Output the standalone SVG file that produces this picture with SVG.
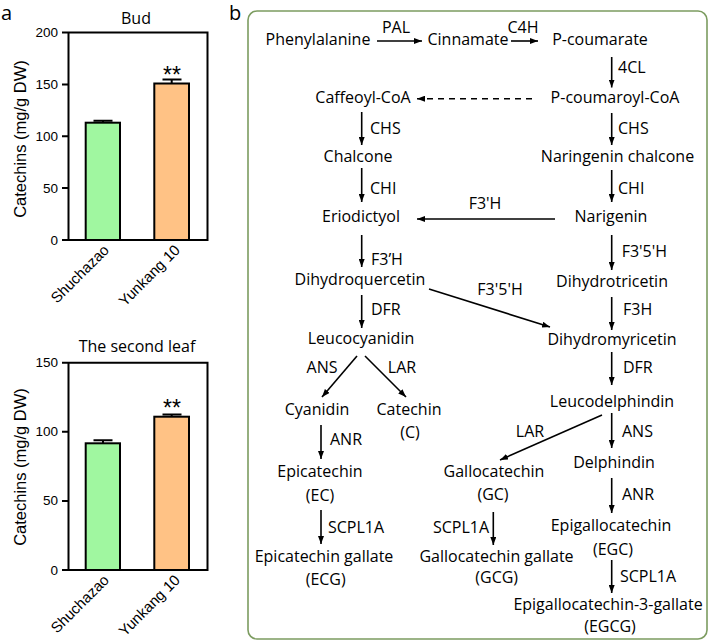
<svg xmlns="http://www.w3.org/2000/svg" width="709" height="641" viewBox="0 0 709 641">
<style>
.t{font-family:"Open Sans","Liberation Sans",sans-serif;font-size:16px;fill:#000}
.m{text-anchor:middle}
.e{text-anchor:end}
.lbl{font-family:"Open Sans","Liberation Sans",sans-serif;font-size:20px;fill:#000}
.ax{font-family:"Liberation Sans",Arial,sans-serif;fill:#000}
.tick{font-size:13.5px;text-anchor:end}
.xl{font-size:15px;text-anchor:end}
.yl{font-size:16.5px;text-anchor:middle}
.st{font-size:23px;text-anchor:middle}
.ttl{font-family:"Open Sans","Liberation Sans",sans-serif;font-size:16px;text-anchor:middle}
.frame{fill:none;stroke:#000;stroke-width:2}
.bar{stroke:#000;stroke-width:2}
.g{fill:#a0f7a0}
.o{fill:#ffc285}
.err{fill:none;stroke:#000;stroke-width:2}
.c{fill:none;stroke:#000;stroke-width:1.6;marker-end:url(#ah)}
.d{stroke-dasharray:6,5}
</style>
<defs>
<marker id="ah" viewBox="0 0 8 6" refX="8" refY="3" markerWidth="8" markerHeight="6" orient="auto" markerUnits="userSpaceOnUse">
<path d="M0,0 L8,3 L0,6 Z" fill="#000"/>
</marker>
</defs>
<rect width="709" height="641" fill="#fff"/>

<!-- Panel a -->
<g id="panel-a">
<text class="lbl" x="1" y="20">a</text>
<g id="chart-bud">
<text class="ttl" x="136" y="24">Bud</text>
<path class="frame" d="M68.5,32.5 V240 H207.5 V32.5 Z M62,32.5 H68.5 M62,84.4 H68.5 M62,136.2 H68.5 M62,188.1 H68.5 M62,240 H68.5"/>
<g class="ax tick">
<text x="58" y="37">200</text>
<text x="58" y="89">150</text>
<text x="58" y="141">100</text>
<text x="58" y="193">50</text>
<text x="58" y="245">0</text>
</g>
<text class="ax yl" transform="translate(26,139) rotate(-90)">Catechins (mg/g DW)</text>
<rect class="bar g" x="85.7" y="122.7" width="34.3" height="117.3"/>
<rect class="bar o" x="154.3" y="83.5" width="34.7" height="156.5"/>
<path class="err" d="M103,122.7 V120.8 M93.5,120.8 H112.5 M171.7,83.5 V79.5 M162.5,79.5 H181.5"/>
<text class="ax st" x="172" y="83">**</text>
<text class="ax xl" transform="translate(110,251) rotate(-45)">Shuchazao</text>
<text class="ax xl" transform="translate(181,251) rotate(-45)">Yunkang 10</text>
</g>
<g id="chart-leaf">
<text class="ttl" x="137" y="352">The second leaf</text>
<path class="frame" d="M68.5,362.7 V570 H207.5 V362.7 Z M62,362.7 H68.5 M62,431.8 H68.5 M62,500.9 H68.5 M62,570 H68.5"/>
<g class="ax tick">
<text x="58" y="367">150</text>
<text x="58" y="436">100</text>
<text x="58" y="505">50</text>
<text x="58" y="575">0</text>
</g>
<text class="ax yl" transform="translate(26,467) rotate(-90)">Catechins (mg/g DW)</text>
<rect class="bar g" x="85.7" y="443.3" width="34.3" height="126.7"/>
<rect class="bar o" x="154.3" y="416.7" width="34.7" height="153.3"/>
<path class="err" d="M103,443.3 V440.3 M93.5,440.3 H112.5 M171.7,416.7 V414.5 M162.5,414.5 H181.5"/>
<text class="ax st" x="172" y="416">**</text>
<text class="ax xl" transform="translate(110,581) rotate(-45)">Shuchazao</text>
<text class="ax xl" transform="translate(181,581) rotate(-45)">Yunkang 10</text>
</g>
</g>

<!-- Panel b -->
<text class="lbl" x="229" y="20">b</text>
<rect id="panel-b-frame" x="248" y="11" width="459" height="628" rx="9" fill="none" stroke="#7c9c60" stroke-width="1.6"/>

<g id="connectors">
<line class="c" x1="377" y1="41" x2="422" y2="41"/>
<line class="c" x1="511" y1="41" x2="538" y2="41"/>
<line class="c" x1="611.7" y1="57" x2="611.7" y2="87.5"/>
<line class="c d" x1="532" y1="98.7" x2="417" y2="98.7"/>
<line class="c" x1="361.7" y1="112" x2="361.7" y2="145"/>
<line class="c" x1="611.7" y1="113" x2="611.7" y2="145"/>
<line class="c" x1="361.7" y1="168" x2="361.7" y2="202"/>
<line class="c" x1="611.7" y1="170" x2="611.7" y2="202"/>
<line class="c" x1="555" y1="219" x2="417" y2="219"/>
<line class="c" x1="361.7" y1="235" x2="361.7" y2="267"/>
<line class="c" x1="611.7" y1="235" x2="611.7" y2="270"/>
<line class="c" x1="361.7" y1="295" x2="361.7" y2="328"/>
<line class="c" x1="611.7" y1="297" x2="611.7" y2="330"/>
<line class="c" x1="429" y1="289" x2="550" y2="327"/>
<line class="c" x1="357" y1="356" x2="322" y2="397"/>
<line class="c" x1="365" y1="356" x2="406" y2="397"/>
<line class="c" x1="611.7" y1="352" x2="611.7" y2="385"/>
<line class="c" x1="602" y1="415" x2="500" y2="460"/>
<line class="c" x1="611.7" y1="413" x2="611.7" y2="448"/>
<line class="c" x1="321" y1="425" x2="321" y2="459"/>
<line class="c" x1="611.7" y1="478" x2="611.7" y2="513"/>
<line class="c" x1="321" y1="510" x2="321" y2="544"/>
<line class="c" x1="493.3" y1="512" x2="493.3" y2="545"/>
<line class="c" x1="611.7" y1="560" x2="611.7" y2="593"/>
</g>

<g id="edge-labels" class="t">
<text class="m" x="396" y="33">PAL</text>
<text class="m" x="523" y="33">C4H</text>
<text x="618" y="73">4CL</text>
<text x="370" y="134">CHS</text>
<text x="618" y="134">CHS</text>
<text x="370" y="194">CHI</text>
<text x="618" y="194">CHI</text>
<text class="m" x="485" y="209">F3'H</text>
<text x="371" y="265">F3’H</text>
<text x="621.7" y="257">F3'5'H</text>
<text x="371" y="315">DFR</text>
<text x="623" y="315">F3H</text>
<text class="m" x="500" y="295">F3'5'H</text>
<text class="m" x="322" y="373">ANS</text>
<text class="m" x="402" y="373">LAR</text>
<text x="623" y="373">DFR</text>
<text class="m" x="530" y="437">LAR</text>
<text x="622" y="437">ANS</text>
<text x="330" y="445">ANR</text>
<text x="622" y="500">ANR</text>
<text x="328" y="533">SCPL1A</text>
<text class="e" x="489" y="533">SCPL1A</text>
<text x="620" y="582">SCPL1A</text>
</g>

<g id="n-phenylalanine"><text class="t m" x="318" y="45">Phenylalanine</text></g>
<g id="n-cinnamate"><text class="t m" x="468" y="45">Cinnamate</text></g>
<g id="n-pcoumarate"><text class="t m" x="600" y="45">P-coumarate</text></g>
<g id="n-caffeoylcoa"><text class="t m" x="363" y="103">Caffeoyl-CoA</text></g>
<g id="n-pcoumaroylcoa"><text class="t m" x="615" y="103">P-coumaroyl-CoA</text></g>
<g id="n-chalcone"><text class="t m" x="358" y="162">Chalcone</text></g>
<g id="n-naringeninchalcone"><text class="t m" x="617.5" y="162">Naringenin chalcone</text></g>
<g id="n-eriodictyol"><text class="t m" x="361" y="222">Eriodictyol</text></g>
<g id="n-narigenin"><text class="t m" x="611" y="222">Narigenin</text></g>
<g id="n-dihydroquercetin"><text class="t m" x="360" y="285">Dihydroquercetin</text></g>
<g id="n-dihydrotricetin"><text class="t m" x="612" y="287">Dihydrotricetin</text></g>
<g id="n-leucocyanidin"><text class="t m" x="361" y="344">Leucocyanidin</text></g>
<g id="n-dihydromyricetin"><text class="t m" x="612" y="345">Dihydromyricetin</text></g>
<g id="n-leucodelphindin"><text class="t m" x="612" y="407">Leucodelphindin</text></g>
<g id="n-cyanidin"><text class="t m" x="317" y="415">Cyanidin</text></g>
<g id="n-catechin"><text class="t m" x="409" y="415">Catechin</text><text class="t m" x="410" y="438">(C)</text></g>
<g id="n-delphindin"><text class="t m" x="614" y="468">Delphindin</text></g>
<g id="n-epicatechin"><text class="t m" x="320" y="477">Epicatechin</text><text class="t m" x="320" y="501">(EC)</text></g>
<g id="n-gallocatechin"><text class="t m" x="494" y="477">Gallocatechin</text><text class="t m" x="493" y="500">(GC)</text></g>
<g id="n-epigallocatechin"><text class="t m" x="611" y="531">Epigallocatechin</text><text class="t m" x="613" y="555">(EGC)</text></g>
<g id="n-ecg"><text class="t m" x="324" y="562">Epicatechin gallate</text><text class="t m" x="325.7" y="585">(ECG)</text></g>
<g id="n-gcg"><text class="t m" x="496.5" y="562">Gallocatechin gallate</text><text class="t m" x="496.7" y="583">(GCG)</text></g>
<g id="n-egcg"><text class="t m" x="608" y="610">Epigallocatechin-3-gallate</text><text class="t m" x="610" y="632">(EGCG)</text></g>
</svg>
